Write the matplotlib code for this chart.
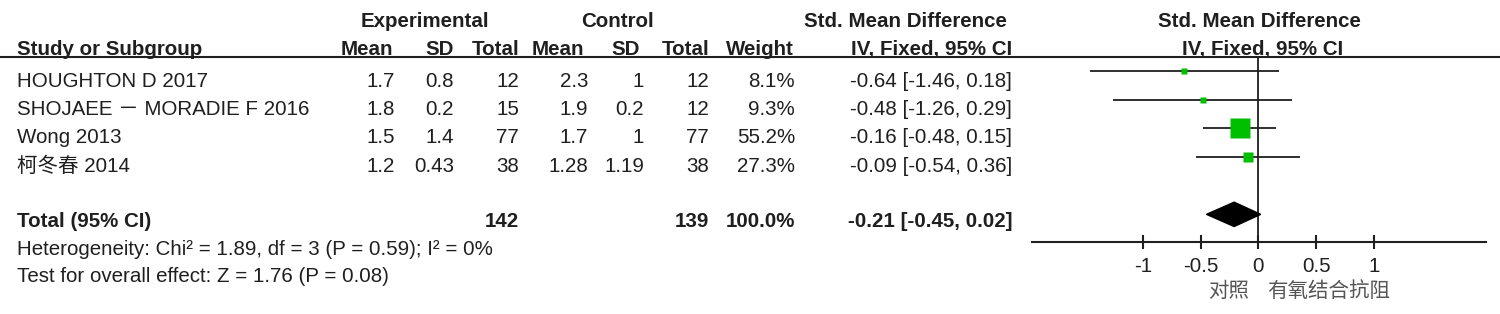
import matplotlib
matplotlib.use('Agg')
import matplotlib.pyplot as plt
from matplotlib.lines import Line2D
from matplotlib.patches import Polygon
from matplotlib.transforms import blended_transform_factory

plt.rcParams['font.family'] = ['Liberation Sans', 'Noto Sans CJK SC', 'DejaVu Sans']

# data
studies = ['HOUGHTON D 2017', 'SHOJAEE \uff0d MORADIE F 2016', 'Wong 2013', '柯冬春 2014']
exp_mean = [1.7, 1.8, 1.5, 1.2]
exp_sd = [0.8, 0.2, 1.4, 0.43]
exp_n = [12, 15, 77, 38]
ctl_mean = [2.3, 1.9, 1.7, 1.28]
ctl_sd = [1, 0.2, 1, 1.19]
ctl_n = [12, 12, 77, 38]
weight = [8.1, 9.3, 55.2, 27.3]
smd = [-0.64, -0.48, -0.16, -0.09]
ci_lo = [-1.46, -1.26, -0.48, -0.54]
ci_hi = [0.18, 0.29, 0.15, 0.36]

total_exp = 142
total_ctl = 139
total_weight = 100.0
total_smd = -0.21
total_lo = -0.45
total_hi = 0.02
heterogeneity = 'Heterogeneity: Chi² = 1.89, df = 3 (P = 0.59); I² = 0%'
overall = 'Test for overall effect: Z = 1.76 (P = 0.08)'
x_ticks = [-1, -0.5, 0, 0.5, 1]
x_ticklabels = ['-1', '-0.5', '0', '0.5', '1']
favours_left = '对照'
favours_right = '有氧结合抗阻'

W, H = 1500, 314
FS = 14.75
INK = '#1f1f1f'
GREEN = '#00bf00'

fig = plt.figure(figsize=(15, 3.14), dpi=100)


def fx(x):
    return x / W


def fy(y):
    return 1 - y / H


def put(x, y, s, ha='left', bold=False, color=INK):
    fig.text(fx(x), fy(y), s, ha=ha, va='baseline', fontsize=FS,
             fontweight='bold' if bold else 'normal', color=color)


# headers
put(424.5, 26.7, 'Experimental', 'center', True)
put(617, 26.7, 'Control', 'center', True)
put(905, 26.7, 'Std. Mean Difference', 'center', True)
put(1259, 26.7, 'Std. Mean Difference', 'center', True)
put(17, 55, 'Study or Subgroup', bold=True)
for x, s in [(393, 'Mean'), (454, 'SD'), (520, 'Total'), (584, 'Mean'),
             (640, 'SD'), (710, 'Total'), (794, 'Weight')]:
    put(x, 55, s, 'right', True)
put(932, 55, 'IV, Fixed, 95% CI', 'center', True)
put(1263, 55, 'IV, Fixed, 95% CI', 'center', True)
fig.add_artist(Line2D([0, 1], [fy(57.3), fy(57.3)], color=INK, lw=1.5))

# study rows
for i, name in enumerate(studies):
    yb = 86.6 + 28.4 * i
    put(17, yb, name)
    put(395, yb, f'{exp_mean[i]:g}', 'right')
    put(454, yb, f'{exp_sd[i]:g}', 'right')
    put(519, yb, f'{exp_n[i]}', 'right')
    put(588, yb, f'{ctl_mean[i]:g}', 'right')
    put(644, yb, f'{ctl_sd[i]:g}', 'right')
    put(709, yb, f'{ctl_n[i]}', 'right')
    put(795, yb, f'{weight[i]:.1f}%', 'right')
    put(1012, yb, f'{smd[i]:.2f} [{ci_lo[i]:.2f}, {ci_hi[i]:.2f}]', 'right')

# total
put(17, 226.7, 'Total (95% CI)', bold=True)
put(519, 226.7, f'{total_exp}', 'right', True)
put(709, 226.7, f'{total_ctl}', 'right', True)
put(795, 226.7, f'{total_weight:.1f}%', 'right', True)
put(1012, 226.7, f'{total_smd:.2f} [{total_lo:.2f}, {total_hi:.2f}]', 'right', True)
put(17, 255, heterogeneity)
put(17, 282, overall)

# forest plot
ax = fig.add_axes([fx(1032), fy(242.3), (1486 - 1032) / W, (242.3 - 57.3) / H])
ax.set_xlim(-1.96, 1.97)
ax.set_ylim(5.975, -0.478)
ax.patch.set_visible(False)
for side in ['top', 'left', 'right']:
    ax.spines[side].set_visible(False)
ax.spines['bottom'].set_linewidth(1.5)
ax.spines['bottom'].set_color(INK)

rows = list(range(len(studies)))
ax.axvline(0, color=INK, lw=1.3, zorder=1)
ax.hlines(rows, ci_lo, ci_hi, color=INK, lw=1.3, zorder=2)
for i in rows:
    side_px = 3 + 0.29 * weight[i]
    ax.plot(smd[i], i, marker='s', ms=side_px * 0.72, color=GREEN,
            mec='none', zorder=3)

yt = 5
hh = 0.425
ax.add_patch(Polygon([(total_lo, yt), (total_smd, yt - hh), (total_hi, yt),
                      (total_smd, yt + hh)], closed=True, color='black', zorder=3))

ax.set_yticks([])
ax.set_xticks(x_ticks, x_ticklabels)
ax.tick_params(axis='x', direction='inout', length=9.4, width=1.5,
               labelsize=FS, pad=6, colors=INK)

tr = blended_transform_factory(ax.transData, fig.transFigure)
ax.text(-0.08, fy(297), favours_left, transform=tr, ha='right', va='baseline',
        fontsize=FS, color='#555555')
ax.text(0.076, fy(297), favours_right, transform=tr, ha='left', va='baseline',
        fontsize=FS, color='#555555')

fig.savefig('out.png', dpi=100)
